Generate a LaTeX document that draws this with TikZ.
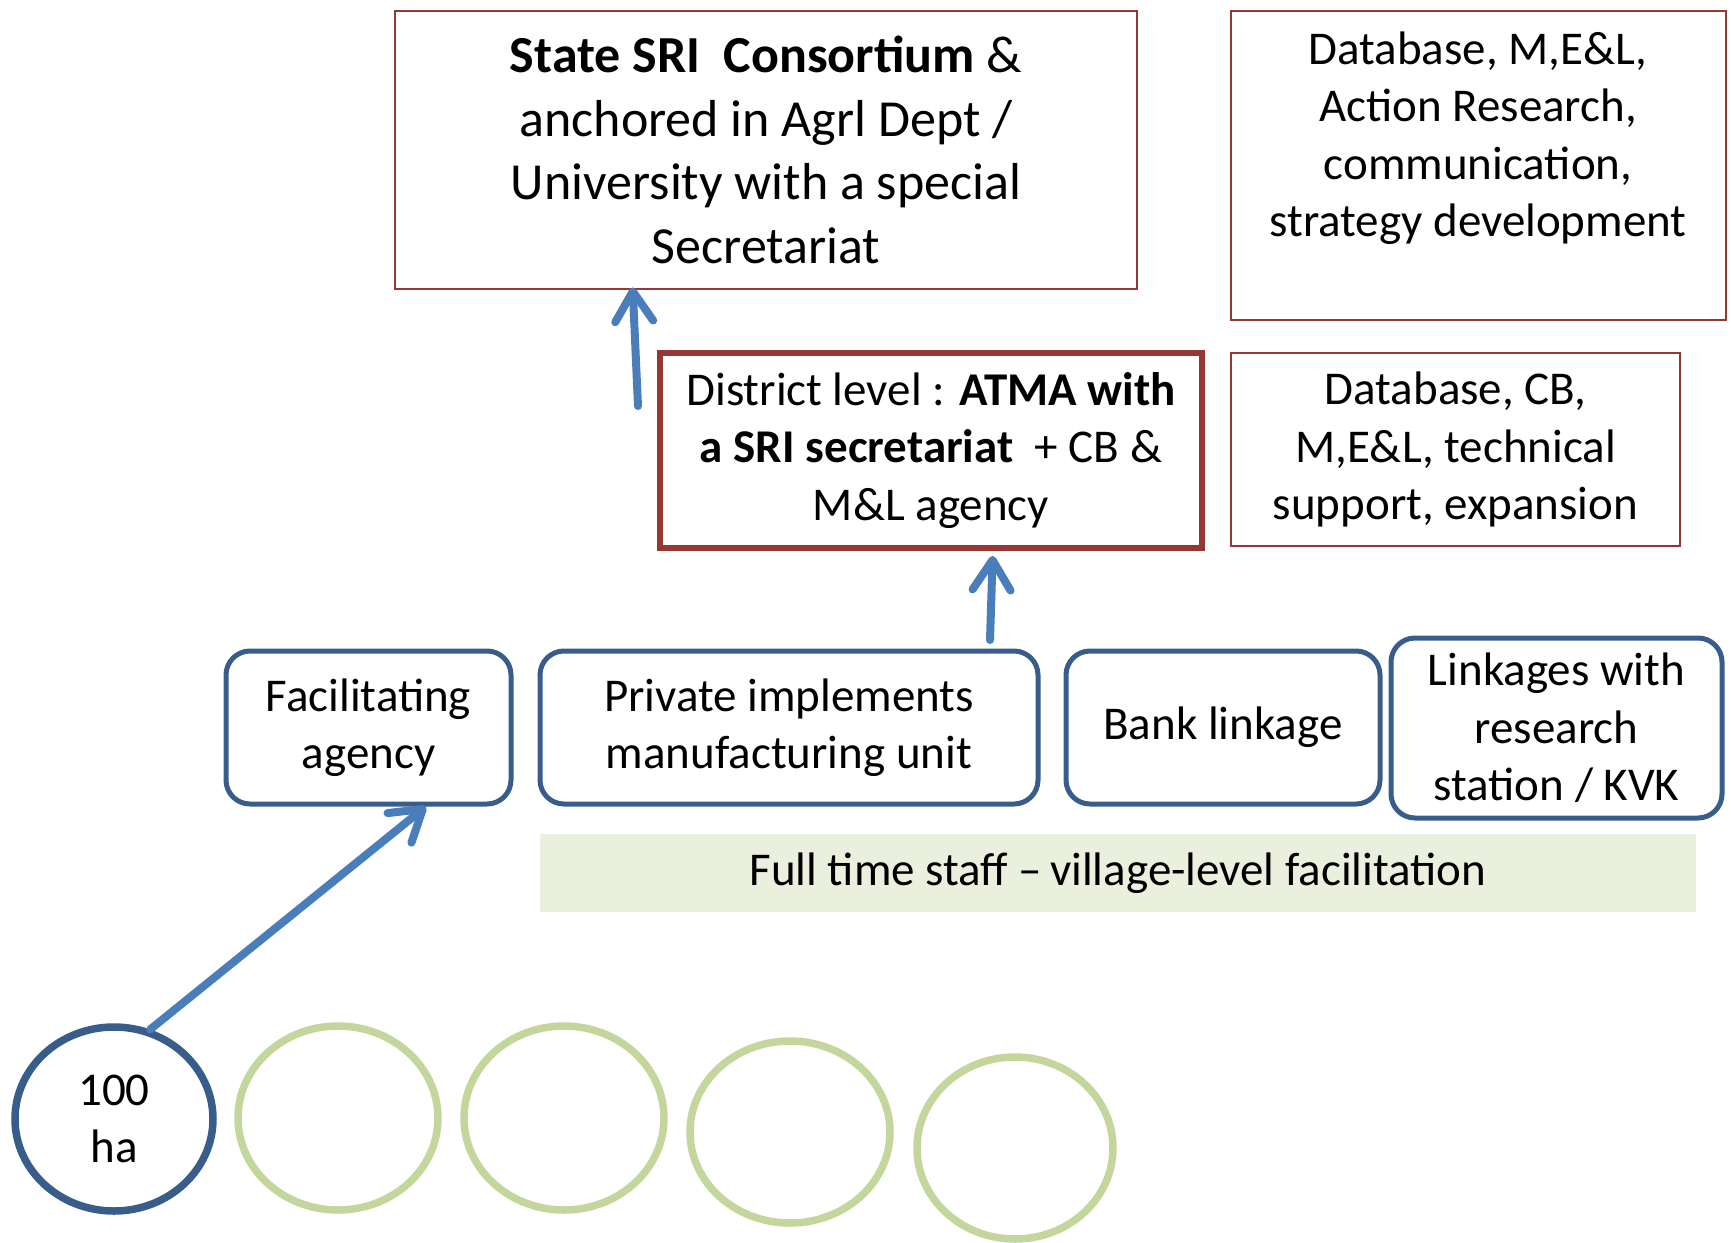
\documentclass[tikz,border=0pt]{standalone}
\usepackage{fontspec}
\setmainfont{Carlito}
\usetikzlibrary{arrows.meta,shapes.geometric,calc}
\definecolor{boxred}{HTML}{953735}
\definecolor{boxblue}{HTML}{385D8A}
\definecolor{arrowblue}{HTML}{4A7EBB}
\definecolor{plotgreen}{HTML}{C3D69B}
\definecolor{bandfill}{HTML}{EBF0DE}
\begin{document}
\begin{tikzpicture}[x=1pt,y=-1pt,
  every node/.style={font=\fontsize{47}{57.5}\selectfont, align=center, inner sep=0pt},
  redbox/.style={draw=boxred, line width=2.8pt},
  districtbox/.style={draw=boxred, line width=6pt},
  unitbox/.style={draw=boxblue, line width=5pt, rounded corners=24pt},
  plot/.style={ellipse, draw=plotgreen, line width=7.5pt},
  flow/.style={draw=arrowblue, line width=8pt, line cap=round,
    -{Straight Barb[length=30pt,width=38pt,round]}},
]
\useasboundingbox (0,0) rectangle (1731,1242);

% state level
\node[redbox, minimum width=742pt, minimum height=278pt,
      font=\fontsize{52}{63.5}\selectfont] (state) at (766,150)
  {\textbf{State SRI\ \ Consortium} \&\\anchored in Agrl Dept /\\University with a special\\Secretariat};
\node[redbox, minimum width=495pt, minimum height=309pt] (strat) at (1478.5,165.5) {};
\node (strattext) at (1478,138)
  {Database, M,E\&L,\\Action Research,\\communication,\\strategy development};

% district level
\node[districtbox, minimum width=542pt, minimum height=195pt] (district) at (931,450.5)
  {District level : \textbf{ATMA with}\\\textbf{a SRI secretariat}\ \ + CB \&\\M\&L agency};
\node[redbox, minimum width=449pt, minimum height=193pt] (support) at (1455.5,449.5)
  {Database, CB,\\M,E\&L, technical\\support, expansion};

% local units
\node[unitbox, minimum width=285pt, minimum height=153pt] (facil) at (368.5,727.5)
  {Facilitating\\agency};
\node[unitbox, minimum width=498pt, minimum height=153pt] (private) at (789,727.5)
  {Private implements\\manufacturing unit};
\node[unitbox, minimum width=314pt, minimum height=153pt] (bank) at (1223,727.5)
  {Bank linkage};
\node[unitbox, minimum width=331pt, minimum height=180pt] (links) at (1556.5,728)
  {Linkages with\\research\\station / KVK};

\node[fill=bandfill, minimum width=1156pt, minimum height=78pt] (band) at (1118,873)
  {Full time staff –\,village-level facilitation};

% 100 ha plots
\node[plot, draw=boxblue, minimum width=198pt, minimum height=184pt] (c1) at (114,1119) {100\\ha};
\node[plot, minimum width=200pt, minimum height=184pt] (c2) at (338,1118) {};
\node[plot, minimum width=200pt, minimum height=184pt] (c3) at (564,1118) {};
\node[plot, minimum width=200pt, minimum height=182pt] (c4) at (790,1132) {};
\node[plot, minimum width=196pt, minimum height=182pt] (c5) at (1015,1148) {};

% upward links
\coordinate (riseA) at (638,406);
\coordinate (riseB) at (990,640);
\draw[flow] (riseA) -- ($(state.south west)!0.321!(state.south east)+(0,-3)$);
\draw[flow] (riseB) -- ($(district.south west)!0.6125!(district.south east)+(0,5)$);
\draw[flow] (c1.68) -- ($(facil.south west)!0.698!(facil.south east)$);
\end{tikzpicture}
\end{document}
